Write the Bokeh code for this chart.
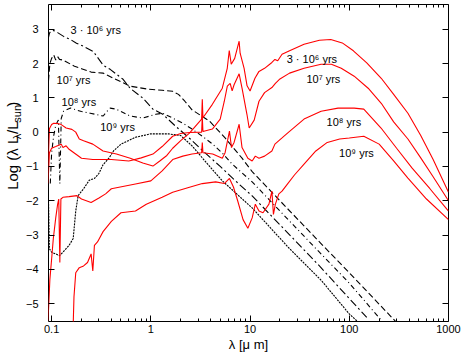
from bokeh.plotting import figure
from bokeh.models import Range1d, FixedTicker, LinearAxis, LogAxis, Label, CustomJSTickFormatter
from bokeh.layouts import row
from bokeh.core.properties import value
from bokeh.embed import file_html
from bokeh.resources import INLINE
import math

# ---------------- data: (wavelength [micron], log(lambda L_lambda / L_sun)) ----------------
# black: stellar populations (unattenuated)
black_3e6 = [(0.092, 2.7), (0.095, 2.88), (0.098, 2.94), (0.105, 2.96), (0.115, 2.9), (0.132, 2.79),
             (0.155, 2.7), (0.178, 2.59), (0.21, 2.5), (0.263, 2.35), (0.331, 1.95), (0.389, 1.83),
             (0.525, 1.54), (0.617, 1.28), (0.832, 0.99), (1.05, 0.67), (1.32, 0.52), (1.78, 0.17),
             (2.5, -0.2), (3.5, -0.6), (5.0, -1.0), (7.0, -1.4), (10.5, -1.86), (20, -2.7),
             (50, -3.9), (100, -4.85), (150, -5.4)]
black_1e7 = [(0.093, 1.5), (0.096, 2.0), (0.1, 2.15), (0.105, 2.25), (0.11, 2.1), (0.115, 2.2),
             (0.12, 2.12), (0.13, 2.1), (0.14, 2.05), (0.17, 1.92), (0.2, 1.85), (0.25, 1.75),
             (0.33, 1.72), (0.42, 1.57), (0.62, 1.34), (0.95, 1.25), (1.3, 1.22), (1.66, 1.19),
             (1.9, 1.1), (2.2, 0.9), (2.6, 0.65), (3.9, 0.32), (5.6, -0.17), (8.3, -0.76),
             (10.5, -1.15), (20, -2.0), (50, -3.2), (100, -4.1), (300, -5.55)]
black_1e8 = [(0.097, -1.5), (0.1, -0.6), (0.105, -0.1), (0.11, 0.2), (0.117, 0.35), (0.121, -1.5),
             (0.125, 0.4), (0.132, 0.61), (0.155, 0.7), (0.2, 0.6), (0.245, 0.55), (0.331, 0.47),
             (0.36, 0.6), (0.389, 0.7), (0.447, 0.67), (0.617, 0.47), (0.832, 0.41), (1.12, 0.52),
             (1.32, 0.55), (1.66, 0.41), (2.1, 0.26), (2.6, 0.09), (3.3, -0.12), (4.2, -0.35),
             (5.25, -0.61), (6.6, -0.93), (8.3, -1.19), (10.5, -1.45), (20, -2.3), (50, -3.5),
             (100, -4.4), (220, -5.55)]
black_1e9 = [(0.092, -1.3), (0.095, -3.4), (0.1, -3.5), (0.11, -3.55), (0.12, -3.6), (0.13, -3.5),
             (0.15, -3.3), (0.165, -3.1), (0.175, -2.3), (0.185, -1.85), (0.21, -1.65), (0.24, -1.4),
             (0.27, -1.35), (0.3, -1.2), (0.33, -0.95), (0.38, -0.75), (0.42, -0.55), (0.5, -0.35),
             (0.7, -0.15), (1.0, -0.05), (1.5, -0.05), (2.0, -0.1), (2.6, -0.4), (3.3, -0.75),
             (4.2, -1.1), (5.25, -1.42), (10.5, -2.21), (24.5, -3.37), (52.5, -4.33), (100, -5.3),
             (130, -5.6)]

# red: dust-reprocessed spectra
red_3e6 = [(0.092, -1.0), (0.095, 0.1), (0.1, 0.22), (0.105, 0.26), (0.115, 0.25), (0.125, 0.22),
           (0.14, 0.12), (0.16, 0.08), (0.175, 0.0), (0.19, -0.2), (0.21, -0.25), (0.26, -0.35),
           (0.33, -0.55), (0.45, -0.64), (0.62, -0.76), (0.83, -0.9), (1.05, -0.99), (1.23, -0.84),
           (1.45, -0.68), (1.66, -0.47), (2.0, -0.25), (2.45, -0.03), (3.25, 0.38), (3.3, 0.96),
           (3.35, 0.42), (4.17, 0.81), (5.25, 1.28), (5.89, 1.86), (6.17, 2.38), (6.46, 1.98),
           (7.0, 2.15), (7.76, 2.65), (7.94, 2.3), (8.71, 1.86), (9.33, 1.35), (10.0, 1.2),
           (11.2, 1.57), (12.3, 1.77), (14, 1.86), (16.6, 2.03), (17.8, 2.12), (19, 2.08),
           (21, 2.27), (25, 2.37), (35, 2.56), (50, 2.68), (65, 2.7), (85, 2.6), (110, 2.37),
           (150, 2.02), (210, 1.57), (280, 1.1), (390, 0.55), (525, -0.1), (700, -0.8), (1000, -1.75)]
red_1e7 = [(0.092, -1.5), (0.095, -0.6), (0.1, -0.47), (0.11, -0.42), (0.125, -0.35), (0.13, -0.45),
           (0.14, -0.4), (0.15, -0.5), (0.2, -0.76), (0.26, -0.8), (0.4, -0.8), (0.6, -0.84),
           (0.8, -0.75), (1.05, -0.64), (1.3, -0.42), (1.66, -0.12), (2.0, -0.04), (2.45, -0.01),
           (3.25, 0.0), (3.3, 0.45), (3.35, 0.02), (4.17, 0.09), (5.0, 0.38), (5.5, 0.9), (5.9, 1.34),
           (6.3, 1.42), (6.6, 1.2), (6.9, 1.38), (7.76, 1.7), (8.3, 1.28), (9.3, 0.52), (9.8, 0.12),
           (11.0, 0.35), (12.3, 0.9), (14, 1.15), (16.6, 1.3), (18, 1.42), (20, 1.55), (25, 1.72),
           (35, 1.86), (52, 1.98), (66, 1.98), (83, 1.86), (112, 1.63), (155, 1.28), (210, 0.84),
           (280, 0.3), (390, -0.2), (525, -0.75), (700, -1.3), (1000, -2.0)]
red_1e8 = [(0.092, -5.5), (0.096, -4.3), (0.1, -3.7), (0.104, -3.1), (0.11, -2.5), (0.115, -2.1),
           (0.118, -1.95), (0.121, -3.8), (0.124, -1.95), (0.13, -1.9), (0.15, -1.88), (0.18, -1.85),
           (0.2, -1.95), (0.25, -2.05), (0.3, -1.92), (0.35, -1.8), (0.4, -1.65), (0.7, -1.51),
           (1.0, -1.42), (1.3, -1.13), (1.66, -0.8), (2.1, -0.7), (2.6, -0.64), (3.25, -0.6),
           (3.3, -0.3), (3.35, -0.6), (4.2, -0.64), (5.25, -0.76), (5.6, -0.6), (6.2, 0.03),
           (6.5, -0.45), (6.9, -0.3), (7.76, 0.23), (8.3, -0.45), (9.5, -0.76), (10.5, -0.84),
           (11.3, -0.7), (12.3, -0.76), (14, -0.7), (16.6, -0.55), (17.8, -0.35), (21, -0.17),
           (24.5, 0.0), (35, 0.38), (52, 0.61), (77, 0.7), (112, 0.7), (140, 0.67), (209, 0.12),
           (300, -0.47), (430, -1.05), (650, -1.65), (1000, -2.3)]
red_1e9 = [(0.165, -5.6), (0.168, -4.8), (0.175, -4.1), (0.19, -3.95), (0.21, -3.9), (0.23, -3.8),
           (0.25, -3.55), (0.26, -4.05), (0.27, -3.3), (0.29, -3.2), (0.33, -2.9), (0.4, -2.6),
           (0.5, -2.35), (0.7, -2.3), (0.9, -2.1), (1.3, -1.9), (1.66, -1.75), (2.5, -1.6),
           (3.3, -1.5), (4.5, -1.45), (5.5, -1.5), (6.2, -1.35), (6.8, -1.6), (7.5, -2.0),
           (8.5, -2.55), (9.5, -2.8), (10.5, -2.5), (11.3, -2.1), (12.3, -2.3), (13.5, -2.35),
           (15.5, -2.1), (16.6, -1.72), (17.2, -2.4), (18, -2.1), (19.5, -1.8), (21, -1.72),
           (24, -1.5), (28, -1.25), (35, -0.93), (46, -0.55), (60, -0.3), (80, -0.2), (100, -0.17),
           (140, -0.12), (200, -0.35), (280, -0.84), (390, -1.34), (600, -1.95), (1000, -2.55)]

x_ticks = [0.1, 1, 10, 100, 1000]
y_ticks = [-5, -4, -3, -2, -1, 0, 1, 2, 3]

# labels: (text, wavelength, log L)
black_labels = [("3 \u00b7 10\u2076 yrs", 0.155, 2.99), ("10\u2077 yrs", 0.112, 1.51),
                ("10\u2078 yrs", 0.126, 0.87), ("10\u2079 yrs", 0.309, 0.15)]
red_labels = [("3 \u00b7 10\u2076 yrs", 23.4, 2.12), ("10\u2077 yrs", 37.0, 1.54),
              ("10\u2078 yrs", 59.0, 0.29), ("10\u2079 yrs", 79.0, -0.61)]

FONT = "Liberation Sans"

p = figure(width=441, height=354, x_axis_type="log",
           x_range=Range1d(0.093, 1000), y_range=Range1d(-5.52, 3.72),
           output_backend="svg", toolbar_location=None,
           min_border_left=23, min_border_right=15, min_border_top=3, min_border_bottom=33)
p.xgrid.visible = False
p.ygrid.visible = False
p.outline_line_color = "black"
p.outline_line_width = 1
p.background_fill_color = "white"
p.border_fill_color = "white"

minor = [m * 10.0 ** e for e in range(-2, 3) for m in range(2, 10)]
xt = FixedTicker(ticks=x_ticks, minor_ticks=minor)
yt = FixedTicker(ticks=y_ticks, minor_ticks=[])

xfmt = CustomJSTickFormatter(code="return tick >= 1 ? tick.toFixed(0) : tick.toString();")
yfmt = CustomJSTickFormatter(code="return tick < 0 ? '\u2212' + (-tick) : '' + tick;")
blank = CustomJSTickFormatter(code="return ' ';")

def style_axis(ax, labels=True):
    ax.axis_line_color = None
    ax.major_tick_in = 6
    ax.major_tick_out = 0
    ax.minor_tick_in = 3
    ax.minor_tick_out = 0
    ax.major_tick_line_color = "black"
    ax.minor_tick_line_color = "black"
    if labels:
        ax.major_label_text_font = FONT
        ax.major_label_text_font_size = "11px"
        ax.major_label_text_color = "black"
    else:
        ax.formatter = blank
        ax.major_label_text_font_size = "1px"
        ax.major_label_standoff = 0

xa = p.xaxis[0]
xa.ticker = xt
xa.formatter = xfmt
style_axis(xa)
xa.major_label_standoff = 3
xa.axis_label = "\u03bb [\u03bc m]"
xa.axis_label_text_font = FONT
xa.axis_label_text_font_size = "13px"
xa.axis_label_text_font_style = "normal"
xa.axis_label_text_color = "black"
xa.axis_label_standoff = 1

ya = p.yaxis[0]
ya.ticker = yt
ya.formatter = yfmt
style_axis(ya)
ya.minor_tick_line_color = None
ya.major_label_standoff = 10

top = LogAxis(ticker=xt)
style_axis(top, labels=False)
p.add_layout(top, "above")
right = LinearAxis(ticker=yt)
style_axis(right, labels=False)
right.minor_tick_line_color = None
p.add_layout(right, "right")

def draw(curve, color, dash):
    xs = [c[0] for c in curve]
    ys = [c[1] for c in curve]
    p.line(xs, ys, line_color=color, line_width=1.1, line_dash=dash)

draw(black_3e6, "black", "8 3 2 3")
draw(black_1e7, "black", "6 3")
draw(black_1e8, "black", "5 3 1 3")
draw(black_1e9, "black", "2 1")
for c in (red_3e6, red_1e7, red_1e8, red_1e9):
    draw(c, "#ff0000", "solid")

for t, x, y in black_labels + red_labels:
    p.add_layout(Label(x=x, y=y, text=t, text_font=FONT, text_font_size="11px",
                       text_color="black", text_align="left", text_baseline="middle"))

# y-axis title (with subscripts) drawn in a narrow strip to the left of the plot
ylab = figure(width=22, height=354, x_range=Range1d(0, 22), y_range=Range1d(0, 354),
              output_backend="svg", toolbar_location=None,
              min_border_left=0, min_border_right=0, min_border_top=0, min_border_bottom=0,
              x_axis_location=None, y_axis_location=None)
ylab.outline_line_color = None
ylab.grid.visible = False
ylab.background_fill_color = "white"
ylab.border_fill_color = "white"
# (text, font size, position along the axis, centre line across it)
pieces = [("Log (\u03bb L", "15px", 147.0, 12.0), ("\u03bb", "11px", 203.5, 16.0),
          ("/L", "15px", 209.5, 12.0), ("sun", "11px", 222.0, 16.0), (")", "15px", 239.7, 12.0)]
for t, fs, yy, xx in pieces:
    ylab.text(x=[xx], y=[yy], text=[t], angle=math.pi / 2, text_font=value(FONT),
              text_font_size=value(fs), text_align="left", text_baseline="middle",
              text_color="black")

layout = row(ylab, p)
open("out.html", "w").write(file_html(layout, INLINE))
